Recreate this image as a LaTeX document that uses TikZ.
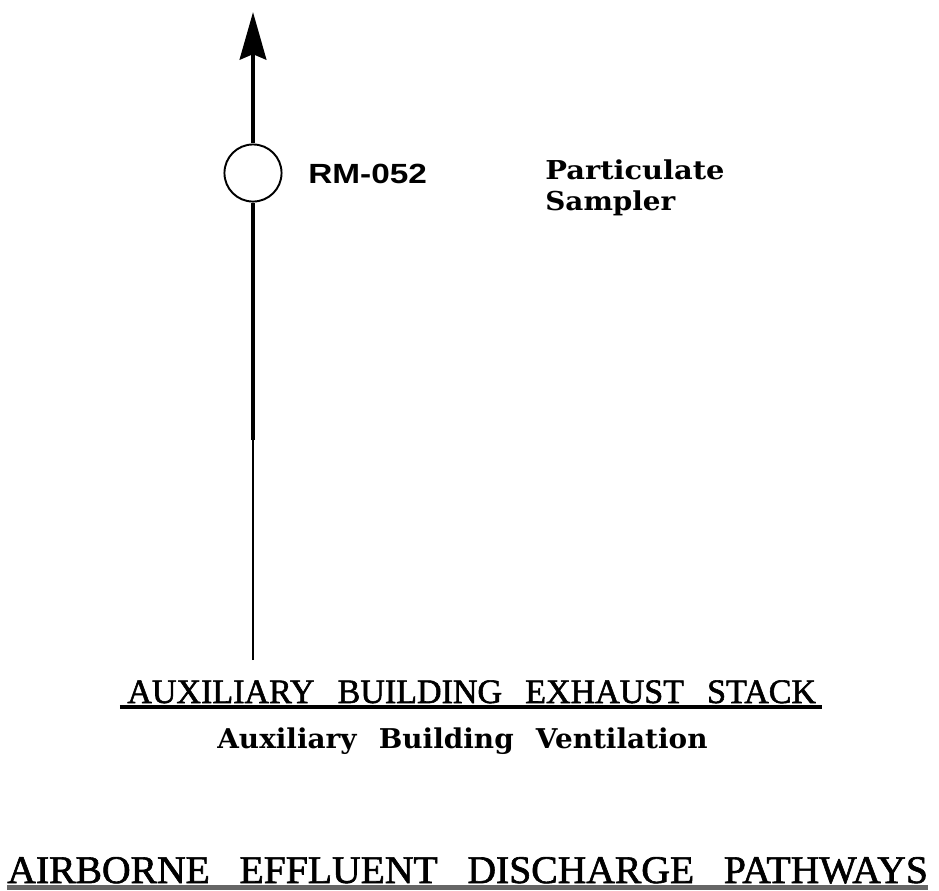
\documentclass[tikz,border=0pt]{standalone}
\usepackage{fontspec}
\setmainfont{Liberation Serif}
\newfontfamily\headfont[FakeBold=1.6]{Liberation Serif}
\newfontfamily\tagfont{Liberation Sans}
\newfontfamily\notefont{DejaVu Serif}
\usetikzlibrary{arrows.meta}
\newcommand{\wgap}[1][0.68em]{\hspace{#1}}
\tikzset{
  pipe/.style={line width=2.8pt, draw=black},
  duct/.style={line width=1.1pt, draw=black},
  flow/.style={pipe, -{Stealth[length=27pt, width=15pt, inset=3pt]}},
  monitor/.style={circle, draw=black, line width=1.1pt, fill=white, minimum size=32.5pt, inner sep=0pt},
  tag/.style={font=\tagfont\bfseries\fontsize{15.8}{19}\selectfont, anchor=base west, inner sep=0pt},
  note/.style={font=\notefont\bfseries\fontsize{14.8}{18}\selectfont, anchor=base west, inner sep=0pt},
  heading/.style={font=\headfont\fontsize{19.5}{23}\selectfont, anchor=base west, inner sep=0pt},
  subheading/.style={font=\notefont\bfseries\fontsize{15.5}{18}\selectfont, anchor=base west, inner sep=0pt},
  rule/.style={line width=2.2pt, draw=black}
}

\begin{document}
\begin{tikzpicture}[x=0.02cm, y=-0.02cm]
\useasboundingbox (0,0) rectangle (939,890);

\coordinate (stacktop) at (253,12);
\coordinate (stackbase) at (253,660);
\coordinate (split) at (253,440);
\node[monitor] (rm) at (253,173) {};

\node[tag] (rmtag) at (308,183) {\resizebox{67.5pt}{\height}{RM-052}};
\node[note] (sampler1) at (545,179) {\resizebox{102pt}{\height}{Particulate}};
\node[note] (sampler2) at (545,210) {\resizebox{74pt}{\height}{Sampler}};

\node[heading] (stack) at (127,703) {\resizebox{392pt}{\height}{AUXILIARY\wgap BUILDING\wgap EXHAUST\wgap STACK}};
\node[subheading] (vent) at (217,748) {\resizebox{279pt}{\height}{Auxiliary\wgap[0.45em] Building\wgap[0.45em] Ventilation}};
\node[heading, font=\headfont\fontsize{22.3}{26}\selectfont] (pathways) at (7,883) {\resizebox{524pt}{\height}{AIRBORNE\wgap[0.5em] EFFLUENT\wgap[0.5em] DISCHARGE\wgap[0.5em] PATHWAYS}};

\draw[flow] (rm.north) -- (stacktop);
\draw[pipe] (split) -- (rm.south);
\draw[duct] (stackbase) -- (split);

\draw[rule] ([xshift=-4pt, yshift=-2.5pt]stack.base west) -- ([xshift=3pt, yshift=-2.5pt]stack.base east);
\draw[line width=2.8pt, draw=black!60] ([yshift=-2.6pt]pathways.base west) -- ([yshift=-2.6pt]pathways.base east);

\end{tikzpicture}
\end{document}
